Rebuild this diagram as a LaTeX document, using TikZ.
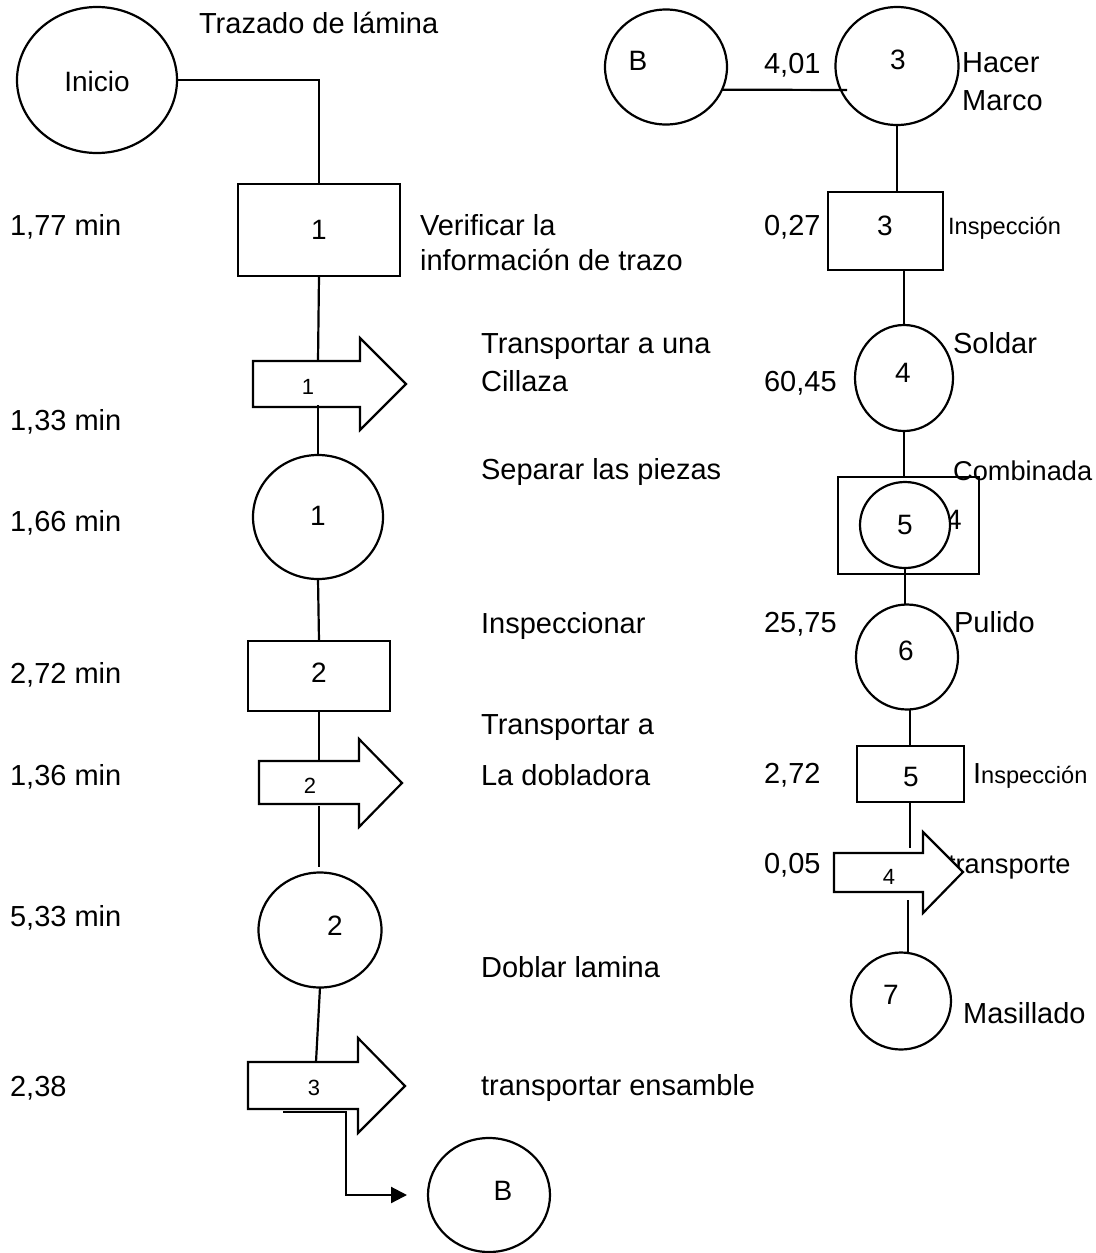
\documentclass[tikz,border=0pt]{standalone}
\usepackage{fontspec}
\setmainfont{Liberation Sans}
\usetikzlibrary{shapes.geometric,arrows.meta}
\begin{document}
\begin{tikzpicture}[x=0.5pt,y=-0.5pt,
  line width=1.1pt,
  ell/.style={draw,ellipse,inner sep=0pt,outer sep=0pt},
  boxn/.style={draw,rectangle,inner sep=0pt,outer sep=0pt},
  txt/.style={font=\fontsize{14.5}{17}\selectfont,inner sep=0pt,anchor=base west},
  rtxt/.style={font=\fontsize{13.6}{16}\selectfont,inner sep=0pt,anchor=base west},
  stxt/.style={font=\fontsize{11.8}{14}\selectfont,inner sep=0pt,anchor=base west},
  num/.style={font=\fontsize{14}{16}\selectfont,inner sep=0pt},
  snum/.style={font=\fontsize{11}{12}\selectfont,inner sep=0pt},
  conn/.style={line width=1.1pt},
  arrowshape/.style={draw,fill=white,line width=1.1pt,line join=miter}
]
\useasboundingbox (0,0) rectangle (1096,1253);

% ---------------- left column: shapes ----------------
\node[ell,minimum width=80pt,minimum height=73pt] (inicio) at (97,80) {};
\node[num] (inicio-t) at (97,81) {Inicio};
\node[boxn,minimum width=81pt,minimum height=46pt] (box1) at (319,230) {};
\node[num] (box1-t) at (319,230) {1};

\draw[arrowshape] (253,361) -- (360,361) -- (360,338) -- (406,384) -- (360,430) -- (360,407) -- (253,407) -- cycle;
\coordinate (a1t) at (318,361);
\coordinate (a1b) at (318,405);
\node[snum] (a1-t) at (308,387) {1};

\node[ell,minimum width=65pt,minimum height=62pt] (c1) at (318,517) {};
\node[num] (c1-t) at (318,516) {1};

\node[boxn,minimum width=71pt,minimum height=35pt] (box2) at (319,676) {};
\node[num] (box2-t) at (319,673) {2};

\draw[arrowshape] (259,761) -- (359,761) -- (359,739) -- (402,783) -- (359,827) -- (359,804) -- (259,804) -- cycle;
\coordinate (a2t) at (319,761);
\coordinate (a2b) at (319,806);
\coordinate (a2e) at (319,867);
\node[snum] (a2-t) at (310,786) {2};

\node[ell,minimum width=61.5pt,minimum height=57.5pt] (c2) at (320,930) {};
\node[num] (c2-t) at (335,926) {2};

\draw[arrowshape] (248,1062) -- (358,1062) -- (358,1038) -- (405,1086) -- (358,1133) -- (358,1109) -- (248,1109) -- cycle;
\coordinate (a3t) at (316,1062);
\coordinate (a3out) at (283,1112);
\coordinate (bend) at (346,1195);
\coordinate (bin) at (407,1195);
\node[snum] (a3-t) at (314,1088) {3};

\node[ell,minimum width=61pt,minimum height=57pt] (bbot) at (489,1195) {};
\node[num] (bbot-t) at (503,1191) {B};

% ---------------- left column: connectors ----------------
\draw[conn] (inicio.east) -- (inicio.east -| box1.north) -- (box1.north);
\draw[conn] (box1.south) -- (a1t);
\draw[conn] (a1b) -- (c1.north);
\draw[conn] (c1.south) -- (box2.north);
\draw[conn] (box2.south) -- (a2t);
\draw[conn] (a2b) -- (a2e);
\draw[conn] (c2.south) -- (a3t);
\draw[conn,-{Triangle[length=8pt,width=8pt]}] (a3out) -| (bend) -- (bin);

% ---------------- left column: labels ----------------
\node[txt] (l-traz) at (198,33) {Trazado de lámina};
\node[txt] (l-177) at (9,235) {1,77 min};
\node[txt] (l-ver1) at (419,235) {Verificar la};
\node[txt] (l-ver2) at (419,270) {información de trazo};
\node[txt] (l-tr1) at (480,353) {Transportar a una};
\node[txt] (l-tr2) at (480,391) {Cillaza};
\node[txt] (l-133) at (9,430) {1,33 min};
\node[txt] (l-sep) at (480,479) {Separar las piezas};
\node[txt] (l-166) at (9,531) {1,66 min};
\node[txt] (l-insp) at (480,633) {Inspeccionar};
\node[txt] (l-272) at (9,683) {2,72 min};
\node[txt] (l-tra1) at (480,734) {Transportar a};
\node[txt] (l-136) at (9,785) {1,36 min};
\node[txt] (l-tra2) at (480,785) {La dobladora};
\node[txt] (l-533) at (9,926) {5,33 min};
\node[txt] (l-dob) at (480,977) {Doblar lamina};
\node[txt] (l-238) at (9,1096) {2,38};
\node[txt] (l-ens) at (480,1095) {transportar ensamble};

% ---------------- right column ----------------
\node[ell,minimum width=61pt,minimum height=57.5pt] (btop) at (666,67) {};
\node[num] (btop-t) at (638,61) {B};
\node[ell,minimum width=61.5pt,minimum height=59pt] (c3) at (897,66) {};
\node[num] (c3-t) at (898,60) {3};
\coordinate (bend3) at (847,90);
\draw[conn] (btop.-22) -- (bend3);

\node[boxn,minimum width=57.5pt,minimum height=39pt] (box3) at (885.5,231) {};
\node[num] (box3-t) at (885,226) {3};
\draw[conn] (c3.south) -- (c3.south |- box3.north);

\node[ell,minimum width=49pt,minimum height=53pt] (c4) at (904,378) {};
\node[num] (c4-t) at (903,373) {4};
\draw[conn] (box3.south -| c4.north) -- (c4.north);

\node[boxn,minimum width=70.5pt,minimum height=48.5pt] (comb) at (908.5,525.5) {};
\node[num] (comb-4) at (954,520) {4};
\node[ell,fill=white,minimum width=45pt,minimum height=43pt] (c5) at (905,525) {};
\node[num] (c5-t) at (905,525) {5};
\draw[conn] (c4.south) -- (c4.south |- comb.north);

\node[ell,minimum width=51pt,minimum height=52.5pt] (c6) at (907,657) {};
\node[num] (c6-t) at (906,651) {6};
\draw[conn] (c5.south) -- (c5.south |- c6.north);

\node[boxn,minimum width=53.5pt,minimum height=28pt] (box5) at (910.5,774) {};
\node[num] (box5-t) at (911,777) {5};
\draw[conn] (910,710) -- (910,746);

\node[rtxt] (r-tra) at (947,873) {transporte};
\coordinate (a4t) at (910,848);
\coordinate (a4b) at (908,900);
\draw[conn] (box5.south -| a4t) -- (a4t);
\draw[arrowshape] (834,853) -- (923,853) -- (923,832) -- (963,872) -- (923,913) -- (923,892) -- (834,892) -- cycle;
\begin{scope}
\clip (850,860) rectangle (930,883);
\node[snum] (a4-t) at (889,877) {4};
\end{scope}

\node[ell,minimum width=50pt,minimum height=48.5pt] (c7) at (901,1001) {};
\node[num] (c7-t) at (891,995) {7};
\draw[conn] (a4b) -- (a4b |- c7.north);

% right labels
\node[txt] (r-401) at (763,73) {4,01};
\node[txt] (r-hac) at (961,72) {Hacer};
\node[txt] (r-mar) at (961,110) {Marco};
\node[txt] (r-027) at (763,235) {0,27};
\node[stxt] (r-insp1) at (947,234) {Inspección};
\node[txt] (r-sol) at (952,353) {Soldar};
\node[txt] (r-6045) at (763,391) {60,45};
\node[rtxt] (r-comb) at (952,480) {Combinada};
\node[txt] (r-2575) at (763,632) {25,75};
\node[txt] (r-pul) at (953,632) {Pulido};
\node[txt] (r-272) at (763,783) {2,72};
\node[txt] (r-insp2) at (972,783) {I{\fontsize{11.8}{14}\selectfont nspección}};
\node[txt] (r-005) at (763,873) {0,05};
\node[txt] (r-mas) at (962,1023) {Masillado};
\end{tikzpicture}
\end{document}
